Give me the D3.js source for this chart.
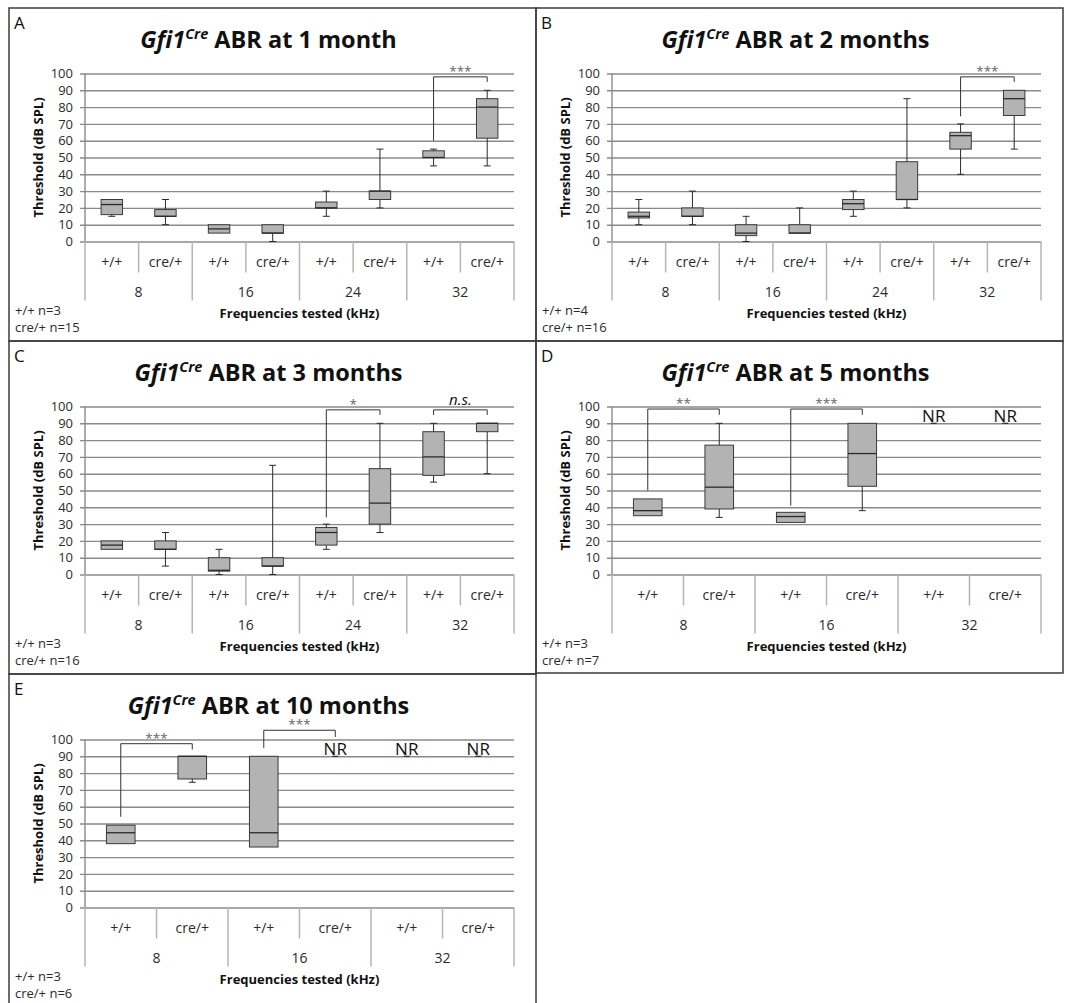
<!DOCTYPE html>
<html>
<head>
<meta charset="utf-8">
<script src="https://cdn.jsdelivr.net/npm/d3@7"></script>
<style>
  body { margin: 0; background: #fff; }
  svg { display: block; font-family: "Open Sans", sans-serif; }
</style>
</head>
<body>
<div id="chart"></div>
<script>
// Genotypes and frequency groups (kHz)
const genotypes = ["+/+", "cre/+"];
const freqs4 = ["8", "16", "24", "32"];
const freqs3 = ["8", "16", "32"];
const yTicks = [0, 10, 20, 30, 40, 50, 60, 70, 80, 90, 100];

// Box stats per category: [min, q1, median, q3, max]; null = NR (no response)
const statsA = [
  [15, 16, 22, 25, 25], [10, 15, 15, 19, 25],
  [5, 5, 7.5, 10, 10], [0, 5, 5, 10, 10],
  [15, 20, 20, 23.5, 30], [20, 25, 30, 30, 55],
  [45, 50, 50, 54, 55], [45, 61.5, 80, 85, 90]
];
const statsB = [
  [10, 14, 15, 17.5, 25], [10, 15, 15, 20, 30],
  [0, 3.5, 5, 10, 15], [5, 5, 5, 10, 20],
  [15, 19, 22.5, 25, 30], [20, 25, 25, 47.5, 85],
  [40, 55, 63, 65, 70], [55, 75, 85, 90, 90]
];
const statsC = [
  [15, 15, 17.5, 20, 20], [5, 15, 15, 20, 25],
  [0, 2, 2.5, 10, 15], [0, 5, 5, 10, 65],
  [15, 17.5, 25, 28, 30], [25, 30, 42.5, 63, 90],
  [55, 59, 70, 85, 90], [60, 85, 90, 90, 90]
];
const statsD = [
  [35, 35, 38, 45, 45], [34, 39, 52, 77, 90],
  [31, 31, 34.5, 37, 37], [38, 52.5, 72, 90, 90],
  null, null
];
const statsE = [
  [38, 38, 44.5, 49, 49], [74.5, 76.5, 90, 90, 90],
  [36, 36, 44.5, 90, 90], null,
  null, null
];

// Significance brackets: [left category, right category, left leg end, bar level, right leg end, label]
const sigA = [[6, 7, 60, 98, 95, "***"]];
const sigB = [[6, 7, 74.5, 98, 95, "***"]];
const sigC = [[4, 5, 34, 98, 95, "*"], [6, 7, 95, 98, 95, "n.s."]];
const sigD = [[0, 1, 50, 98.5, 95, "**"], [2, 3, 41, 98.5, 95, "***"]];
const sigE = [[0, 1, 54, 97.5, 94, "***"], [2, 3, 95, 105.5, 101.5, "***"]];

// Group sizes [+/+, cre/+]
const nA = [3, 15];
const nB = [4, 16];
const nC = [3, 16];
const nD = [3, 7];
const nE = [3, 6];

const ages = ["1 month", "2 months", "3 months", "5 months", "10 months"];

const width = 1067, height = 1003;
const svg = d3.select("#chart").append("svg")
  .attr("width", width)
  .attr("height", height);

const panels = [
  { id: "A", x: 9, y: 8, w: 527, h: 333, age: ages[0], freqs: freqs4, stats: statsA, sig: sigA, n: nA },
  { id: "B", x: 536, y: 8, w: 527, h: 333, age: ages[1], freqs: freqs4, stats: statsB, sig: sigB, n: nB },
  { id: "C", x: 9, y: 341, w: 527, h: 333, age: ages[2], freqs: freqs4, stats: statsC, sig: sigC, n: nC },
  { id: "D", x: 536, y: 341, w: 527, h: 332, age: ages[3], freqs: freqs3, stats: statsD, sig: sigD, n: nD },
  { id: "E", x: 9, y: 674, w: 527, h: 335, age: ages[4], freqs: freqs3, stats: statsE, sig: sigE, n: nE }
];

const gridColor = "#8a8a8a";
const sepColor = "#b5b5b5";
const inkColor = "#2b2b2b";

function drawPanel(p) {
  const g = svg.append("g").attr("transform", `translate(${p.x},${p.y})`);

  // panel frame
  g.append("rect")
    .attr("width", p.w).attr("height", p.h)
    .attr("fill", "none").attr("stroke", "#3c3c3c").attr("stroke-width", 1.5);

  const plotL = 76, plotR = 505, plotT = 65.5, plotB = 233.5;

  // panel letter
  g.append("text").attr("x", 5).attr("y", 21)
    .attr("font-size", 17).attr("fill", "#111").text(p.id);

  // title
  const title = g.append("text")
    .attr("x", p.w / 2 - 4).attr("y", 40)
    .attr("text-anchor", "middle")
    .attr("font-size", 23.5).attr("font-weight", "bold").attr("fill", "#111");
  title.append("tspan").attr("font-style", "italic").text("Gfi1");
  title.append("tspan").attr("font-style", "italic").attr("font-size", 14.5).attr("dy", -9).text("Cre");
  title.append("tspan").attr("dy", 9).text(" ABR at " + p.age);

  const cats = p.freqs.flatMap(f => genotypes.map(gt => f + "|" + gt));
  const x = d3.scaleBand().domain(cats).range([plotL, plotR]).padding(0);
  const y = d3.scaleLinear().domain([0, 100]).range([plotB, plotT]);

  // gridlines + y tick labels
  const yAxis = g.append("g")
    .attr("transform", `translate(${plotL - 5},0)`)
    .call(d3.axisLeft(y).tickValues(yTicks).tickSize(-(plotR - plotL + 5)).tickPadding(7));
  yAxis.select(".domain").remove();
  yAxis.selectAll(".tick line").attr("stroke", gridColor).attr("stroke-width", 1.4);
  yAxis.selectAll(".tick text")
    .attr("font-size", 13).attr("fill", inkColor)
    .attr("font-family", "'Open Sans', sans-serif");

  // y axis line
  g.append("line")
    .attr("x1", plotL).attr("x2", plotL)
    .attr("y1", plotT).attr("y2", plotB)
    .attr("stroke", gridColor).attr("stroke-width", 1.4);

  // category / group separators under the axis
  const step = x.step();
  d3.range(cats.length + 1).forEach(i => {
    const xx = plotL + i * step;
    g.append("line")
      .attr("x1", xx).attr("x2", xx)
      .attr("y1", plotB).attr("y2", plotB + (i % 2 === 0 ? 59 : 31))
      .attr("stroke", sepColor).attr("stroke-width", 1.5);
  });

  // category labels
  const xAxis = g.append("g")
    .attr("transform", `translate(0,${plotB})`)
    .call(d3.axisBottom(x).tickSize(0).tickPadding(0).tickFormat(d => d.split("|")[1]));
  xAxis.select(".domain").remove();
  xAxis.selectAll(".tick text")
    .attr("dy", null).attr("y", 25.5)
    .attr("font-size", 14).attr("fill", inkColor)
    .attr("font-family", "'Open Sans', sans-serif");

  // group labels (frequency)
  p.freqs.forEach(f => {
    const cx = x(f + "|" + genotypes[0]) + step;
    g.append("text").attr("x", cx).attr("y", plotB + 55)
      .attr("text-anchor", "middle").attr("font-size", 14).attr("fill", inkColor)
      .text(f);
  });

  // axis titles
  g.append("text")
    .attr("x", (plotL + plotR) / 2).attr("y", plotB + 76.5)
    .attr("text-anchor", "middle").attr("font-size", 13).attr("font-weight", "bold")
    .attr("fill", "#111").text("Frequencies tested (kHz)");
  g.append("text")
    .attr("transform", `translate(33.5,${(plotT + plotB) / 2}) rotate(-90)`)
    .attr("text-anchor", "middle").attr("font-size", 13).attr("font-weight", "bold")
    .attr("fill", "#111").text("Threshold (dB SPL)");

  // footnote with n
  g.append("text").attr("x", 6).attr("y", 306.5)
    .attr("font-size", 13).attr("fill", inkColor).text(`+/+ n=${p.n[0]}`);
  g.append("text").attr("x", 6).attr("y", 324)
    .attr("font-size", 13).attr("fill", inkColor).text(`cre/+ n=${p.n[1]}`);

  // boxes
  const bw = step * 0.4, capW = 7;
  p.stats.forEach((s, i) => {
    const cx = x(cats[i]) + step / 2;
    if (s === null) {
      g.append("text").attr("x", cx).attr("y", y(90) - 1)
        .attr("text-anchor", "middle").attr("font-size", 17).attr("fill", "#111")
        .text("NR");
      g.append("line")
        .attr("x1", cx - 3).attr("x2", cx + 3)
        .attr("y1", y(90)).attr("y2", y(90))
        .attr("stroke", inkColor).attr("stroke-width", 1.2);
      return;
    }
    const [mn, q1, md, q3, mx] = s;
    g.append("line")
      .attr("x1", cx).attr("x2", cx).attr("y1", y(mn)).attr("y2", y(mx))
      .attr("stroke", inkColor).attr("stroke-width", 1);
    if (mx > q3) {
      g.append("line").attr("x1", cx - capW / 2).attr("x2", cx + capW / 2)
        .attr("y1", y(mx)).attr("y2", y(mx))
        .attr("stroke", inkColor).attr("stroke-width", 1);
    }
    if (mn < q1) {
      g.append("line").attr("x1", cx - capW / 2).attr("x2", cx + capW / 2)
        .attr("y1", y(mn)).attr("y2", y(mn))
        .attr("stroke", inkColor).attr("stroke-width", 1);
    }
    g.append("rect")
      .attr("x", cx - bw / 2).attr("y", y(q3))
      .attr("width", bw).attr("height", Math.max(0.5, y(q1) - y(q3)))
      .attr("fill", "#b3b3b3").attr("stroke", "#3a3a3a").attr("stroke-width", 1);
    g.append("line")
      .attr("x1", cx - bw / 2).attr("x2", cx + bw / 2)
      .attr("y1", y(md)).attr("y2", y(md))
      .attr("stroke", inkColor).attr("stroke-width", 1.3);
  });

  // significance brackets
  p.sig.forEach(([a, b, la, top, rb, label]) => {
    const xl = x(cats[a]) + step / 2, xr = x(cats[b]) + step / 2;
    g.append("path")
      .attr("d", `M${xl},${y(la)}V${y(top)}H${xr}V${y(rb)}`)
      .attr("fill", "none").attr("stroke", "#333").attr("stroke-width", 1);
    const isNs = label === "n.s.";
    g.append("text")
      .attr("x", (xl + xr) / 2).attr("y", y(top) - (isNs ? 5 : 1))
      .attr("text-anchor", "middle")
      .attr("font-size", isNs ? 15 : 13.5)
      .attr("font-style", isNs ? "italic" : null)
      .attr("fill", isNs ? "#111" : "#666")
      .text(label);
  });
}

panels.forEach(drawPanel);
</script>
</body>
</html>
